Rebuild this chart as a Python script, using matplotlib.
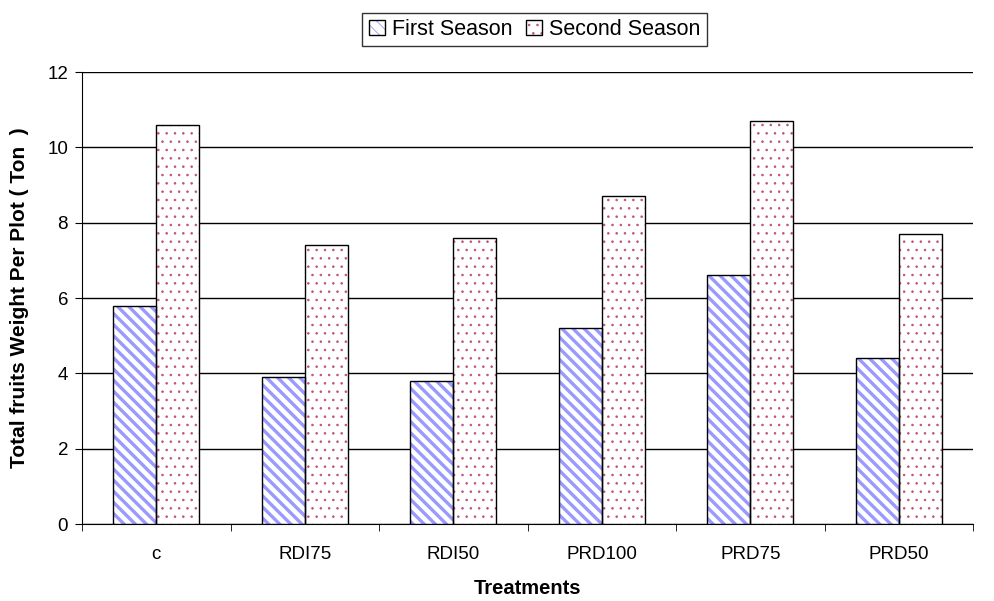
import matplotlib.pyplot as plt
import numpy as np

plt.rcParams['font.family'] = ['Liberation Sans', 'DejaVu Sans']

# data
treatments = ['c', 'RDI75', 'RDI50', 'PRD100', 'PRD75', 'PRD50']
first_season = [5.8, 3.9, 3.8, 5.2, 6.6, 4.4]
second_season = [10.6, 7.4, 7.6, 8.7, 10.7, 7.7]

fig = plt.figure(figsize=(9.94, 6.01), dpi=100)
ax = fig.add_axes([0.0825, 0.128, 0.8965, 0.752])

x = np.arange(len(treatments))
w = 0.29


def set_hlw(bars, lw):
    for p in bars:
        if hasattr(p, 'set_hatch_linewidth'):
            p.set_hatch_linewidth(lw)
        else:
            p._hatch_linewidth = lw


plt.rcParams['hatch.linewidth'] = 2.4
b1 = ax.bar(x - w/2, first_season, w, color='white', edgecolor='#9999ff',
            hatch='\\\\\\', linewidth=0, zorder=3)
set_hlw(b1, 2.4)
plt.rcParams['hatch.linewidth'] = 0.6
b2 = ax.bar(x + w/2, second_season, w, color='white', edgecolor='#c0507f',
            hatch='..', linewidth=0, zorder=3)
set_hlw(b2, 0.6)
# black outlines
o1 = ax.bar(x - w/2, first_season, w, fill=False, edgecolor='black', linewidth=1, zorder=4)
o2 = ax.bar(x + w/2, second_season, w, fill=False, edgecolor='black', linewidth=1, zorder=4)

ax.set_xlim(-0.5, len(treatments) - 0.5)
ax.set_ylim(0, 12)
ax.set_yticks(np.arange(0, 13, 2))
ax.set_xticks(x)
ax.set_xticklabels(treatments, fontsize=13.5)
ax.set_xticks(np.arange(-0.5, len(treatments)), minor=True)
ax.tick_params(axis='x', which='major', length=0, pad=16)
ax.tick_params(axis='x', which='minor', length=5, direction='out')
ax.tick_params(axis='y', labelsize=13.5, length=5, direction='out', pad=5)

ax.yaxis.grid(True, color='black', linewidth=1)
ax.set_axisbelow(True)
ax.spines['top'].set_visible(False)
ax.spines['right'].set_visible(False)

ax.set_xlabel('Treatments', fontsize=14.5, fontweight='bold', labelpad=11)
ax.set_ylabel('Total fruits Weight Per Plot ( Ton  )', fontsize=15, fontweight='bold', labelpad=13)

leg = fig.legend([(b1[0], o1[0]), (b2[0], o2[0])], ['First Season', 'Second Season'],
                 loc='upper center', bbox_to_anchor=(0.538, 0.997), ncol=2, fontsize=15.5,
                 frameon=True, fancybox=False, edgecolor='black', handlelength=0.75,
                 handleheight=0.75, handletextpad=0.35, columnspacing=0.6, borderpad=0.3)
leg.get_frame().set_linewidth(1)

fig.savefig('out.png', dpi=100)
